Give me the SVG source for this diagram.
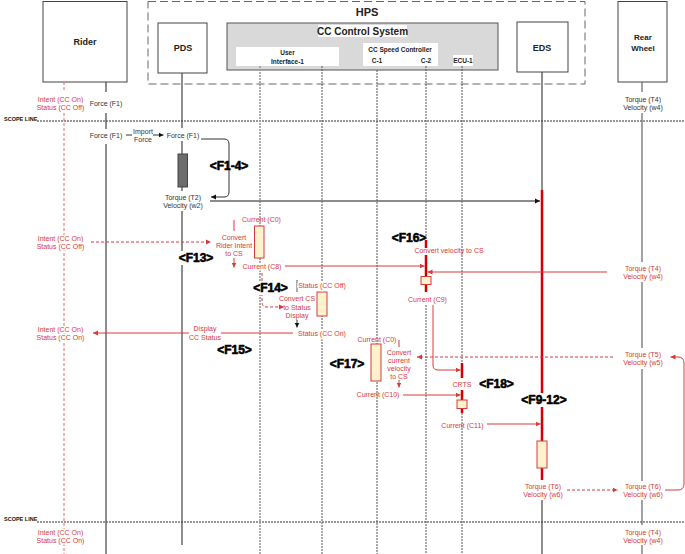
<svg xmlns="http://www.w3.org/2000/svg" width="685" height="554" viewBox="0 0 685 554">
<style>
text{font-family:"Liberation Sans",Arial,sans-serif}
.t{font-size:7px;fill:#333;text-anchor:middle}
.r{font-size:7px;fill:#d83a3a;text-anchor:middle}
.h{stroke:#fff;stroke-width:3;paint-order:stroke;stroke-linejoin:round}
.b{font-weight:bold;fill:#222;text-anchor:middle}
.f{font-size:12px;font-weight:bold;fill:#000;text-anchor:middle;stroke:#000;stroke-width:0.6;stroke-linejoin:round}
.wb{fill:#fff}
.box{fill:#fff;stroke:#444;stroke-width:1}
.solid{stroke:#444;stroke-width:1.2;fill:none}
.gsolid{stroke:#666;stroke-width:1.2;fill:none}
.dot{stroke:#555;stroke-width:1;stroke-dasharray:2 1;fill:none}
.gdot{stroke:#999;stroke-width:1.6;stroke-dasharray:2 1;fill:none}
.rdash{stroke:#e06a6a;stroke-width:1;stroke-dasharray:3 2;fill:none}
.thick{stroke:#d40000;stroke-width:2.5;fill:none}
.rl{stroke:#d83a3a;stroke-width:1;fill:none}
.rld{stroke:#d83a3a;stroke-width:1;stroke-dasharray:3 2;fill:none}
.bl{stroke:#333;stroke-width:1;fill:none}
.act{fill:#fff2cc;stroke:#d83a3a;stroke-width:1}
.scope{stroke:#333;stroke-width:1;stroke-dasharray:2 1}
.sl{font-size:5.5px;font-weight:bold;fill:#111}
</style>
<defs>
<marker id="ar" markerWidth="6" markerHeight="6" refX="5" refY="3" orient="auto" markerUnits="userSpaceOnUse"><path d="M0,0.5 L5,3 L0,5.5 Z" fill="#d83a3a"/></marker>
<marker id="ab" markerWidth="6" markerHeight="6" refX="5" refY="3" orient="auto" markerUnits="userSpaceOnUse"><path d="M0,0.5 L5,3 L0,5.5 Z" fill="#111"/></marker>
</defs>

<!-- HPS container -->
<g id="hps">
<rect x="148" y="1.5" width="437" height="82.5" fill="none" stroke="#666" stroke-width="1" stroke-dasharray="8 4"/>
<text x="367" y="16" class="b" font-size="11">HPS</text>
</g>

<g id="cc-control-system">
<rect x="227" y="23" width="271" height="47" fill="#d9d9d9" stroke="#555" stroke-width="1"/>
<rect x="318" y="25" width="89" height="12" fill="#fff"/>
<text x="362.5" y="35" class="b" font-size="10">CC Control System</text>
</g>

<g id="rider">
<rect x="43" y="1.5" width="84" height="80.5" class="box"/>
<text x="85" y="45" class="b" font-size="9">Rider</text>
</g>
<g id="pds">
<rect x="158" y="23" width="49" height="50" class="box"/>
<text x="183" y="51" class="b" font-size="9">PDS</text>
</g>
<g id="user-interface-1">
<rect x="236" y="47" width="103" height="19" fill="#fff"/>
<text x="287.5" y="54.5" class="b" font-size="6.5">User</text>
<text x="287.5" y="63.5" class="b" font-size="6.5">Interface-1</text>
</g>
<g id="cc-speed-controller">
<rect x="363" y="43" width="75" height="23" fill="#fff"/>
<text x="400" y="51.5" class="b" font-size="6.5">CC Speed Controller</text>
<text x="377" y="62.5" class="b" font-size="6.5">C-1</text>
<text x="426" y="62.5" class="b" font-size="6.5">C-2</text>
</g>
<g id="ecu-1">
<rect x="453" y="55" width="20" height="11" fill="#fff"/>
<text x="463" y="62.5" class="b" font-size="6.5">ECU-1</text>
</g>
<g id="eds">
<rect x="517" y="22" width="51" height="50" class="box"/>
<text x="542" y="51" class="b" font-size="9">EDS</text>
</g>
<g id="rear-wheel">
<rect x="618" y="1.5" width="49" height="80.5" class="box"/>
<text x="643" y="40" class="b" font-size="8">Rear</text>
<text x="643" y="51" class="b" font-size="8">Wheel</text>
</g>

<!-- scope lines -->
<g id="scope-lines">
<line x1="37" y1="121" x2="685" y2="121" class="scope"/>
<text x="4" y="120.5" class="sl">SCOPE LINE</text>
<line x1="37" y1="522" x2="685" y2="522" class="scope"/>
<text x="4" y="521" class="sl">SCOPE LINE</text>
</g>

<!-- lifelines -->
<g id="lifelines">
<path d="M64 82 V92 M64 113 V554" class="rdash"/>
<path d="M106 82 V92 M106 113 V129 M106 144 V554" class="solid"/>
<path d="M182 73 V128 M182 141 V191 M182 211 V545" class="solid"/>
<path d="M260 66 V554" class="gdot"/>
<path d="M322 66 V554" class="dot"/>
<path d="M377 70 V554" class="dot"/>
<path d="M426 66 V240 M426 305 V554" class="dot"/>
<path d="M462 66 V363 M462 413 V554" class="dot"/>
<path d="M542 72 V190 M542 500 V554" class="solid"/>
<path d="M642 82 V92 M642 113 V262 M642 282 V348 M642 369 V481 M642 500 V525 M642 545 V554" class="gsolid"/>
</g>

<!-- activations -->
<g id="activations">
<rect x="178" y="154" width="9.5" height="33" fill="#6d6d6d" stroke="#444" stroke-width="1"/>
<rect x="254.5" y="226" width="9.5" height="32" class="act"/>
<rect x="317" y="292" width="10" height="24" class="act"/>
<path d="M426 240 V248 M426 255 V292" class="thick"/>
<rect x="421" y="276.5" width="10" height="8" class="act"/>
<rect x="371" y="344" width="10" height="37" class="act"/>
<path d="M462 363 V378 M462 390 V413" class="thick"/>
<rect x="457" y="400" width="10" height="8.5" class="act"/>
<path d="M542 190 V480" class="thick"/>
<rect x="537" y="441" width="10" height="27" class="act"/>
</g>

<!-- connectors -->
<g id="connectors">
<path d="M126 135 H132" class="bl"/>
<path d="M153 135 H163.5" class="bl" marker-end="url(#ab)"/>
<path d="M201 139 H224 Q229 139 229 144 V192 Q229 197 224 197 H211" class="bl" marker-end="url(#ab)"/>
<path d="M210 201 H540" stroke="#666" stroke-width="1.5" fill="none" marker-end="url(#ab)"/>
<path d="M91 242 H211" class="rld" marker-end="url(#ar)"/>
<path d="M234 220 V231" class="rl"/>
<path d="M234 258 V267.5" class="rl" marker-end="url(#ar)"/>
<path d="M285 266 H424.5" class="rl" marker-end="url(#ar)"/>
<path d="M607 272 H427.5" class="rl" marker-end="url(#ar)"/>
<path d="M433 305 V365 Q433 370 438 370 H460.5" class="rl" marker-end="url(#ar)"/>
<path d="M262 273 V302 Q262 307 267 307 H284" class="rld" marker-end="url(#ar)"/>
<path d="M297 280 V292" stroke="#555" stroke-width="1" fill="none"/>
<path d="M297 320 V327.5" class="bl" marker-end="url(#ab)"/>
<path d="M293 333 H221 M189 333 H93" class="rl" marker-end="url(#ar)"/>
<path d="M613 357 H417" class="rld" marker-end="url(#ar)"/>
<path d="M399 340 V347" class="rl"/>
<path d="M399 380 V387.5" class="rl" marker-end="url(#ar)"/>
<path d="M403 395 H460.5" class="rl" marker-end="url(#ar)"/>
<path d="M487 424 H540.5" class="rl" marker-end="url(#ar)"/>
<path d="M567 490 H617.5" class="rld" marker-end="url(#ar)"/>
<path d="M665 490 H678 Q684 490 684 484 V363 Q684 357 678 357 H670.5" class="rl" marker-end="url(#ar)"/>
</g>

<!-- labels -->
<g id="labels">
<text x="60.5" y="101.5" class="r h">Intent (CC On)</text>
<text x="60.5" y="109.5" class="r h">Status (CC Off)</text>
<text x="106" y="105.5" class="t h">Force (F1)</text>
<text x="643" y="101.5" class="t h">Torque (T4)</text>
<text x="643" y="109.5" class="t h">Velocity (w4)</text>

<text x="106" y="137.5" class="t">Force (F1)</text>
<text x="143" y="133.5" class="t">Import</text>
<text x="143" y="141.5" class="t">Force</text>
<text x="183" y="137.5" class="t">Force (F1)</text>
<text x="229" y="170" class="f">&lt;F1-4&gt;</text>
<text x="183" y="199.5" class="t">Torque (T2)</text>
<text x="183" y="207.5" class="t">Velocity (w2)</text>

<text x="60.5" y="240.5" class="r h">Intent (CC On)</text>
<text x="60.5" y="248.5" class="r h">Status (CC Off)</text>
<text x="234" y="239.5" class="r">Convert</text>
<text x="234" y="247.5" class="r">Rider Intent</text>
<text x="234" y="255.5" class="r">to CS</text>
<text x="261.5" y="221.5" class="r">Current (C0)</text>
<rect x="177" y="251" width="38" height="14" class="wb"/>
<text x="196" y="262" class="f">&lt;F13&gt;</text>
<text x="262" y="268.5" class="r h">Current (C8)</text>

<text x="409" y="242" class="f">&lt;F16&gt;</text>
<text x="449" y="252.5" class="r">Convert velocity to CS</text>
<text x="643" y="270.5" class="r">Torque (T4)</text>
<text x="643" y="278.5" class="r">Velocity (w4)</text>
<text x="427.5" y="301.5" class="r">Current (C9)</text>

<rect x="252" y="281" width="37" height="14" class="wb"/>
<text x="270.5" y="292" class="f">&lt;F14&gt;</text>
<text x="322" y="287.5" class="r h">Status (CC Off)</text>
<text x="297" y="300.5" class="r">Convert CS</text>
<text x="297" y="309.5" class="r">to Status</text>
<text x="297" y="317.5" class="r">Display</text>
<text x="322" y="335.5" class="r h">Status (CC On)</text>
<text x="205" y="330.5" class="r h">Display</text>
<text x="205" y="339.5" class="r h">CC Status</text>
<text x="60.5" y="331.5" class="r h">Intent (CC On)</text>
<text x="60.5" y="339.5" class="r h">Status (CC On)</text>
<text x="234.5" y="354" class="f">&lt;F15&gt;</text>

<text x="377" y="341.5" class="r">Current (C0)</text>
<text x="347" y="368" class="f">&lt;F17&gt;</text>
<text x="399" y="354.5" class="r">Convert</text>
<text x="399" y="362.5" class="r">current</text>
<text x="399" y="370.5" class="r">velocity</text>
<text x="399" y="378.5" class="r">to CS</text>
<text x="378" y="396.5" class="r">Current (C10)</text>
<text x="643" y="357" class="r">Torque (T5)</text>
<text x="643" y="365" class="r">Velocity (w5)</text>
<text x="462" y="386.5" class="r">CRTS</text>
<text x="496.5" y="388" class="f">&lt;F18&gt;</text>
<rect x="520" y="393" width="48" height="14" class="wb"/>
<text x="544" y="404" class="f">&lt;F9-12&gt;</text>
<text x="462.5" y="427.5" class="r">Current (C11)</text>
<text x="543" y="488.5" class="r">Torque (T6)</text>
<text x="543" y="496.5" class="r">Velocity (w6)</text>
<text x="643" y="488.5" class="r">Torque (T6)</text>
<text x="643" y="496.5" class="r">Velocity (w6)</text>

<text x="60.5" y="534.5" class="r h">Intent (CC On)</text>
<text x="60.5" y="542.5" class="r h">Status (CC On)</text>
<text x="643" y="534.5" class="r">Torque (T4)</text>
<text x="643" y="542.5" class="r">Velocity (w4)</text>
</g>
</svg>
